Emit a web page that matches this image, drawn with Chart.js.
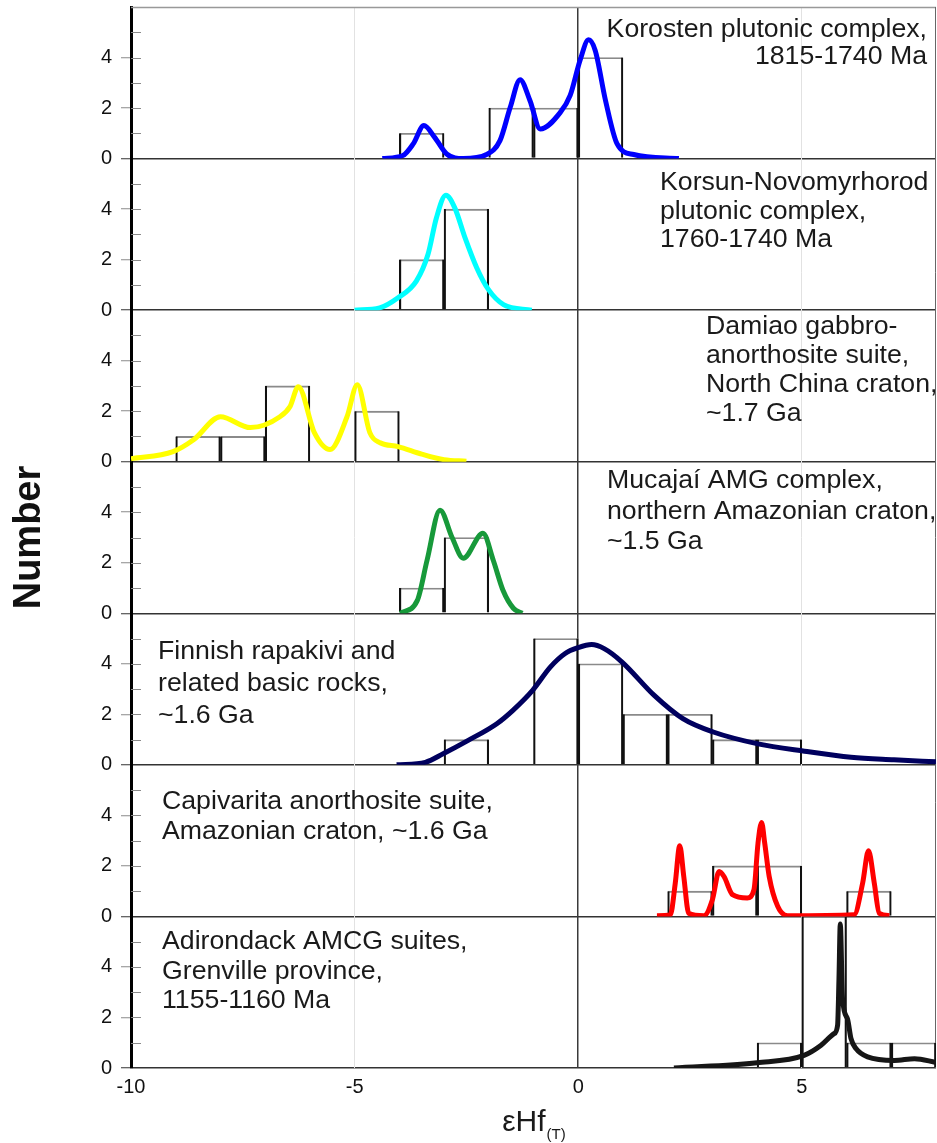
<!DOCTYPE html>
<html>
<head>
<meta charset="utf-8">
<script src="https://cdn.jsdelivr.net/npm/chart.js@4.4.1/dist/chart.umd.min.js"></script>
<style>
  html, body { margin: 0; padding: 0; background: #fff; }
  #wrap { position: relative; width: 937px; height: 1143px; }
</style>
</head>
<body>
<div id="wrap"><canvas id="hf" width="937" height="1143"></canvas></div>
<script>
// histogram bins (bin centres, width 1 epsilon unit) and counts, plus density curves
const korostenBins = [-3.5, -1.5, -0.5, 0.5];
const korostenCounts = [1, 2, 2, 4];
const korostenX = [-4.38, -3.92, -3.69, -3.45, -3.21, -2.94, -2.57, -2.05, -1.75, -1.52, -1.3, -1.08, -0.85, -0.4, -0.18, 0.04, 0.23, 0.38, 0.61, 0.87, 1.24, 2.25];
const korostenY = [0, 0.12, 0.58, 1.31, 0.84, 0.18, 0, 0.16, 0.71, 2.03, 3.12, 2.3, 1.17, 1.83, 2.5, 3.88, 4.7, 4.28, 2.3, 0.58, 0.16, 0];

const korsunBins = [-3.5, -2.5];
const korsunCounts = [2, 4];
const korsunX = [-5.0, -4.44, -4.03, -3.62, -3.36, -3.17, -2.96, -2.76, -2.53, -2.27, -2.01, -1.67, -1.04];
const korsunY = [0, 0.09, 0.49, 1.15, 2.2, 3.66, 4.55, 4.05, 2.86, 1.68, 0.82, 0.22, 0];

const damiaoBins = [-8.5, -7.5, -6.5, -4.5];
const damiaoCounts = [1, 1, 3, 2];
const damiaoX = [-10, -9.06, -8.6, -8.0, -7.33, -6.67, -6.44, -6.26, -5.9, -5.55, -5.17, -4.94, -4.66, -4.43, -4.03, -3.5, -3.0, -2.5];
const damiaoY = [0.12, 0.4, 0.87, 1.78, 1.35, 1.78, 2.2, 2.97, 1.15, 0.48, 1.78, 3.05, 1.15, 0.75, 0.6, 0.3, 0.08, 0.02];

const mucajaiBins = [-3.5, -2.5];
const mucajaiCounts = [1, 3];
const mucajaiX = [-3.98, -3.6, -3.38, -3.09, -2.82, -2.57, -2.13, -1.9, -1.68, -1.45, -1.25];
const mucajaiY = [0, 0.5, 2.1, 4.08, 3.0, 2.18, 3.17, 2.1, 0.9, 0.2, 0];

const finnishBins = [-2.5, -0.5, 0.5, 1.5, 2.5, 3.5, 4.5];
const finnishCounts = [1, 5, 4, 2, 2, 1, 1];
const finnishX = [-4.06, -3.42, -3.02, -2.46, -1.82, -1.46, -1.02, -0.62, -0.3, 0, 0.3, 0.58, 0.98, 1.7, 2.34, 3.02, 4.02, 5.06, 6.1, 7.06, 8.0];
const finnishY = [0, 0.1, 0.44, 0.97, 1.63, 2.16, 2.95, 3.88, 4.4, 4.64, 4.76, 4.6, 4.07, 2.75, 1.83, 1.3, 0.83, 0.54, 0.3, 0.2, 0.12];

const capivaritaBins = [2.5, 3.5, 4.5, 6.5];
const capivaritaCounts = [1, 2, 2, 1];
const capivaritaX = [1.76, 2.06, 2.17, 2.27, 2.36, 2.47, 2.81, 3.0, 3.15, 3.26, 3.45, 3.78, 3.93, 4.02, 4.1, 4.17, 4.27, 4.46, 4.68, 6.17, 6.36, 6.49, 6.62, 6.73, 6.96];
const capivaritaY = [0.03, 0.07, 1.32, 2.8, 1.58, 0.13, 0.03, 0.66, 1.78, 1.58, 0.86, 0.73, 1.06, 2.9, 3.72, 2.9, 1.58, 0.4, 0.03, 0.07, 1.32, 2.6, 1.32, 0.13, 0.03];

const adirondackBins = [4.5, 5.5, 6.5, 7.5];
const adirondackCounts = [1, 6, 1, 1];
const adirondackX = [2.14, 4.0, 5.05, 5.43, 5.72, 5.8, 5.83, 5.86, 5.91, 6.02, 6.1, 6.21, 6.47, 7.07, 7.52, 8.0];
const adirondackY = [0, 0.21, 0.5, 0.9, 1.36, 1.7, 3.5, 5.7, 2.75, 1.95, 1.16, 0.77, 0.44, 0.3, 0.37, 0.22];

const yTicks = [0, 1, 2, 3, 4, 5];
const xTicks = [-10, -5, 0, 5];

const panelLabels = [
  ['Korosten plutonic complex,', '1815-1740 Ma'],
  ['Korsun-Novomyrhorod', 'plutonic complex,', '1760-1740 Ma'],
  ['Damiao gabbro-', 'anorthosite suite,', 'North China craton,', '~1.7 Ga'],
  ['Mucajaí AMG complex,', 'northern Amazonian craton,', '~1.5 Ga'],
  ['Finnish rapakivi and', 'related basic rocks,', '~1.6 Ga'],
  ['Capivarita anorthosite suite,', 'Amazonian craton, ~1.6 Ga'],
  ['Adirondack AMCG suites,', 'Grenville province,', '1155-1160 Ma']
];
const yTitle = 'Number';

const FONT = '"Liberation Sans", Arial, sans-serif';

// where each panel's text block sits (x in px, dy from panel top, line height)
const labelPos = [
  { x: 927, dy: 23, lh: 27, align: 'right' },
  { x: 660, dy: 24.5, lh: 28.5 },
  { x: 706, dy: 16, lh: 29.3 },
  { x: 607, dy: 19.3, lh: 30.5 },
  { x: 158, dy: 38.7, lh: 32 },
  { x: 162, dy: 37.1, lh: 30 },
  { x: 162, dy: 25.6, lh: 29.5 }
];

const panels = [
  { bins: korostenBins, counts: korostenCounts, cx: korostenX, cy: korostenY, color: '#0000ff' },
  { bins: korsunBins, counts: korsunCounts, cx: korsunX, cy: korsunY, color: '#00ffff' },
  { bins: damiaoBins, counts: damiaoCounts, cx: damiaoX, cy: damiaoY, color: '#ffff00' },
  { bins: mucajaiBins, counts: mucajaiCounts, cx: mucajaiX, cy: mucajaiY, color: '#17993a' },
  { bins: finnishBins, counts: finnishCounts, cx: finnishX, cy: finnishY, color: '#00005e' },
  { bins: capivaritaBins, counts: capivaritaCounts, cx: capivaritaX, cy: capivaritaY, color: '#ff0000' },
  { bins: adirondackBins, counts: adirondackCounts, cx: adirondackX, cy: adirondackY, color: '#161616' }
];

const datasets = [];
const scales = {};

panels.forEach((p, i) => {
  const yid = 'y' + i;
  datasets.push({
    type: 'line',
    data: p.cx.map((x, j) => ({ x: x, y: p.cy[j] })),
    yAxisID: yid,
    borderColor: p.color,
    borderWidth: 5,
    pointRadius: 0,
    cubicInterpolationMode: 'monotone',
    borderJoinStyle: 'round',
    borderCapStyle: 'butt',
    fill: false,
    order: 0
  });
  const bars = p.bins.map((x, j) => ({ x: x, y: p.counts[j] }));
  // black sides
  datasets.push({
    type: 'bar', data: bars, yAxisID: yid,
    backgroundColor: 'rgba(0,0,0,0)', borderColor: '#111',
    borderWidth: { left: 1.5, right: 1.5, top: 0, bottom: 0 },
    barPercentage: 1, categoryPercentage: 1, grouped: false, order: 1
  });
  // grey tops
  datasets.push({
    type: 'bar', data: bars, yAxisID: yid,
    backgroundColor: 'rgba(0,0,0,0)', borderColor: '#8a8a8a',
    borderWidth: { left: 0, right: 0, top: 1.2, bottom: 0 },
    barPercentage: 1, categoryPercentage: 1, grouped: false, order: 1
  });

  scales[yid] = {
    type: 'linear',
    position: 'left',
    stack: 'panels',
    stackWeight: 1,
    weight: panels.length - i,
    min: 0,
    max: 6,
    afterBuildTicks: (s) => { s.ticks = yTicks.map(v => ({ value: v })); },
    afterFit: (s) => { s.width = 131; s.paddingTop = 0; s.paddingBottom = 0; },
    ticks: {
      callback: (v) => (v % 2 === 0 ? String(v) : ''),
      font: { family: FONT, size: 20 },
      color: '#111',
      padding: 9
    },
    grid: {
      color: (c) => (c.tick && c.tick.value === 0 ? '#333' : 'rgba(0,0,0,0)'),
      lineWidth: 1.5,
      tickLength: 10,
      tickColor: (c) => (c.tick && c.tick.value === 0 ? '#333' : '#8a8a8a'),
      tickWidth: 1
    },
    border: { color: '#000', width: 3 }
  };
});

scales.x = {
  type: 'linear',
  min: -10,
  max: 8,
  offset: false,
  afterBuildTicks: (s) => { s.ticks = xTicks.map(v => ({ value: v })); },
  afterFit: (s) => { s.height = 75; s.paddingLeft = 0; s.paddingRight = 0; },
  ticks: {
    font: { family: FONT, size: 20 },
    color: '#111',
    padding: 7,
    maxRotation: 0,
    autoSkip: false
  },
  grid: {
    offset: false,
    color: (c) => {
      if (!c.tick) return 'rgba(0,0,0,0)';
      if (c.tick.value === 0) return '#3a3a3a';
      if (c.tick.value === -5 || c.tick.value === 5) return '#e2e2e2';
      return 'rgba(0,0,0,0)';
    },
    lineWidth: (c) => (c.tick && c.tick.value === 0 ? 1.5 : 1),
    drawTicks: false
  },
  border: { display: false }
};

const frame = {
  id: 'frame',
  beforeDatasetsDraw(chart) {
    const { ctx, chartArea: a } = chart;
    ctx.save();
    ctx.strokeStyle = '#8a8a8a';
    ctx.lineWidth = 1;
    panels.forEach((p, i) => {
      const s = chart.scales['y' + i];
      yTicks.forEach(v => {
        if (v === 0) return;
        const y = Math.round(s.getPixelForValue(v)) + 0.5;
        ctx.beginPath();
        ctx.moveTo(a.left, y);
        ctx.lineTo(a.left + 10, y);
        ctx.stroke();
      });
    });
    ctx.strokeStyle = '#999';
    ctx.lineWidth = 1.5;
    ctx.beginPath();
    ctx.moveTo(a.left, a.top + 0.5);
    ctx.lineTo(a.right, a.top + 0.5);
    ctx.stroke();
    ctx.strokeStyle = '#666';
    ctx.lineWidth = 1;
    ctx.beginPath();
    ctx.moveTo(a.right - 0.5, a.top);
    ctx.lineTo(a.right - 0.5, a.bottom);
    ctx.stroke();
    ctx.restore();
  },
  afterDraw(chart) {
    const { ctx, chartArea: a } = chart;
    ctx.save();
    ctx.fillStyle = '#1a1a1a';
    ctx.font = '26.7px ' + FONT;
    ctx.textBaseline = 'middle';
    panelLabels.forEach((lines, i) => {
      const s = chart.scales['y' + i];
      const pos = labelPos[i];
      ctx.textAlign = pos.align || 'left';
      lines.forEach((t, k) => ctx.fillText(t, pos.x, s.top + pos.dy + k * pos.lh));
    });

    // y title
    ctx.save();
    ctx.translate(30, (a.top + a.bottom) / 2);
    ctx.rotate(-Math.PI / 2);
    ctx.font = 'bold 38px ' + FONT;
    ctx.textAlign = 'center';
    ctx.fillStyle = '#111';
    ctx.fillText(yTitle, 0, 0);
    ctx.restore();

    // x title: εHf with (T) subscript
    ctx.textBaseline = 'alphabetic';
    ctx.textAlign = 'left';
    ctx.font = '30px ' + FONT;
    const main = 'εHf';
    const wMain = ctx.measureText(main).width;
    ctx.font = '15px ' + FONT;
    const sub = '(T)';
    const wSub = ctx.measureText(sub).width;
    const x0 = (a.left + a.right) / 2 - (wMain + wSub) / 2;
    ctx.font = '30px ' + FONT;
    ctx.fillText(main, x0, 1131);
    ctx.font = '15px ' + FONT;
    ctx.fillText(sub, x0 + wMain + 1, 1139);
    ctx.restore();
  }
};

new Chart(document.getElementById('hf'), {
  type: 'line',
  data: { datasets: datasets },
  options: {
    responsive: false,
    animation: false,
    devicePixelRatio: 1,
    layout: { padding: { top: 7, right: 1, left: 0, bottom: 0 } },
    plugins: { legend: { display: false }, tooltip: { enabled: false } },
    scales: scales
  },
  plugins: [frame]
});
</script>
</body>
</html>
